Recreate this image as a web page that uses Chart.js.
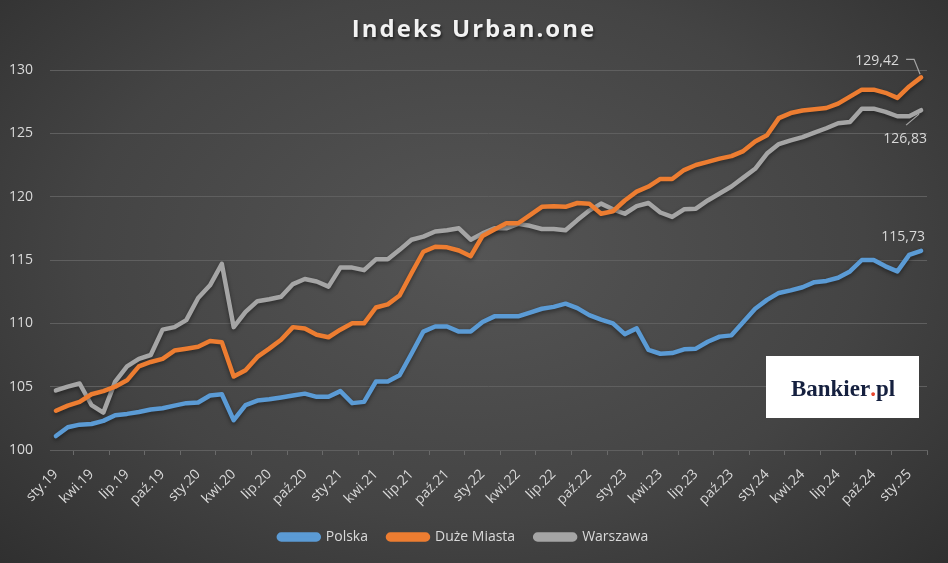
<!DOCTYPE html>
<html lang="pl">
<head>
<meta charset="utf-8">
<title>Indeks Urban.one</title>
<script src="https://cdn.jsdelivr.net/npm/chart.js@4.4.1/dist/chart.umd.min.js"></script>
<style>
  html, body { margin: 0; padding: 0; }
  body {
    width: 948px; height: 563px; overflow: hidden;
    background: radial-gradient(ellipse 75% 85% at 50% 45%, #555555 0%, #444444 55%, #2c2c2c 100%);
  }
  #wrap { position: relative; width: 948px; height: 563px; }
</style>
</head>
<body>
<div id="wrap"><canvas id="urbanChart"></canvas></div>
<script>
// month abbreviations and years used for the category labels
const monthNames = ["sty", "lut", "mar", "kwi", "maj", "cze", "lip", "sie", "wrz", "paź", "lis", "gru"];
const years = ["19", "20", "21", "22", "23", "24", "25"];
const monthCount = 74; // sty.19 .. lut.25

const yTicks = [100, 105, 110, 115, 120, 125, 130];

const polska = [
  101.1, 101.8, 102.0, 102.05, 102.3, 102.75, 102.85, 103.0, 103.2, 103.3, 103.5, 103.7,
  103.75, 104.3, 104.4, 102.35, 103.55, 103.9, 104.0, 104.15, 104.3, 104.45, 104.2, 104.2,
  104.65, 103.7, 103.8, 105.4, 105.4, 105.9, 107.6, 109.35, 109.75, 109.75, 109.35, 109.35,
  110.1, 110.55, 110.55, 110.55, 110.85, 111.15, 111.3, 111.55, 111.2, 110.65, 110.3, 110.0,
  109.15, 109.6, 107.9, 107.6, 107.65, 107.95, 108.0, 108.55, 108.95, 109.05, 110.1, 111.15,
  111.85, 112.4, 112.6, 112.85, 113.25, 113.35, 113.6, 114.1, 115.0, 115.0, 114.5, 114.1,
  115.4, 115.73
];

const duzeMiasta = [
  103.1, 103.5, 103.8, 104.4, 104.65, 105.0, 105.5, 106.6, 106.95, 107.2, 107.85, 108.0,
  108.15, 108.6, 108.5, 105.8, 106.3, 107.35, 108.0, 108.7, 109.7, 109.6, 109.1, 108.9,
  109.5, 110.0, 110.0, 111.25, 111.5, 112.2, 113.95, 115.65, 116.05, 116.0, 115.75, 115.3,
  116.9, 117.4, 117.9, 117.9, 118.55, 119.2, 119.25, 119.2, 119.5, 119.45, 118.65, 118.85,
  119.7, 120.4, 120.8, 121.4, 121.4, 122.1, 122.5, 122.75, 123.0, 123.2, 123.6, 124.35,
  124.85, 126.2, 126.6, 126.8, 126.9, 127.0, 127.35, 127.9, 128.45, 128.45, 128.2, 127.8,
  128.7, 129.42
];

const warszawa = [
  104.7, 105.0, 105.25, 103.55, 102.95, 105.4, 106.6, 107.2, 107.5, 109.5, 109.7, 110.25,
  112.0, 113.0, 114.7, 109.7, 110.9, 111.75, 111.9, 112.1, 113.1, 113.5, 113.3, 112.9,
  114.4, 114.4, 114.2, 115.05, 115.05, 115.8, 116.6, 116.85, 117.25, 117.35, 117.5, 116.6,
  117.1, 117.5, 117.5, 117.85, 117.7, 117.45, 117.45, 117.35, 118.15, 118.9, 119.45, 119.0,
  118.65, 119.25, 119.5, 118.75, 118.4, 119.0, 119.05, 119.7, 120.25, 120.8, 121.5, 122.2,
  123.4, 124.15, 124.45, 124.7, 125.05, 125.4, 125.8, 125.9, 126.95, 126.95, 126.7, 126.35,
  126.35, 126.83
];

const labels = [];
for (let i = 0; i < monthCount; i++) {
  labels.push(monthNames[i % 12] + "." + years[Math.floor(i / 12)]);
}

const FONT = '"Open Sans", "DejaVu Sans", sans-serif';
const TEXT = "#d9d9d9";

// title drawn by hand so it can have letter spacing + shadow
const titlePlugin = {
  id: "titlePlugin",
  afterDraw(chart) {
    const ctx = chart.ctx;
    ctx.save();
    ctx.font = "bold 24px " + FONT;
    if ("letterSpacing" in ctx) ctx.letterSpacing = "2px";
    ctx.textAlign = "center";
    ctx.textBaseline = "middle";
    ctx.shadowColor = "rgba(0,0,0,0.6)";
    ctx.shadowBlur = 3;
    ctx.shadowOffsetX = 1;
    ctx.shadowOffsetY = 2;
    ctx.fillStyle = "#f2f2f2";
    ctx.fillText("Indeks Urban.one", 474, 30);
    ctx.restore();
  }
};

// soft shadow under the lines, like the Excel original
const lineShadow = {
  id: "lineShadow",
  beforeDatasetsDraw(chart) {
    const ctx = chart.ctx;
    ctx.save();
    ctx.shadowColor = "rgba(0,0,0,0.45)";
    ctx.shadowBlur = 4;
    ctx.shadowOffsetY = 2;
  },
  afterDatasetsDraw(chart) {
    chart.ctx.restore();
  }
};

// value labels at the last point of each series
const endLabels = {
  id: "endLabels",
  afterDatasetsDraw(chart) {
    const ctx = chart.ctx;
    const spots = [
      { dx: -18, dy: -14, leader: null },
      { dx: -44, dy: -16, leader: [[-15, -18], [-7, -18], [-1, -3]] },
      { dx: -16, dy: 29, leader: [[-15, 15], [-2, 4]] }
    ];
    ctx.save();
    ctx.font = "14px " + FONT;
    ctx.fillStyle = TEXT;
    ctx.textAlign = "center";
    ctx.textBaseline = "middle";
    ctx.strokeStyle = "#a6a6a6";
    ctx.lineWidth = 1.2;
    chart.data.datasets.forEach((ds, i) => {
      const meta = chart.getDatasetMeta(i);
      const pt = meta.data[meta.data.length - 1];
      const val = ds.data[ds.data.length - 1];
      const s = spots[i];
      if (s.leader) {
        ctx.beginPath();
        s.leader.forEach((p, k) => {
          if (k === 0) ctx.moveTo(pt.x + p[0], pt.y + p[1]);
          else ctx.lineTo(pt.x + p[0], pt.y + p[1]);
        });
        ctx.stroke();
      }
      ctx.fillText(val.toFixed(2).replace(".", ","), pt.x + s.dx, pt.y + s.dy);
    });
    ctx.restore();
  }
};

// Bankier.pl logo box
const logoPlugin = {
  id: "logoPlugin",
  afterDraw(chart) {
    const ctx = chart.ctx;
    ctx.save();
    ctx.fillStyle = "#ffffff";
    ctx.fillRect(766, 356, 153, 62);
    ctx.font = 'bold 23px "Liberation Serif", "DejaVu Serif", serif';
    ctx.textBaseline = "alphabetic";
    ctx.textAlign = "left";
    const a = "Bankier", b = ".", c = "pl";
    const wa = ctx.measureText(a).width;
    const wb = ctx.measureText(b).width;
    const wc = ctx.measureText(c).width;
    let x = 843 - (wa + wb + wc) / 2;
    const y = 396;
    ctx.fillStyle = "#15203f";
    ctx.fillText(a, x, y);
    ctx.fillStyle = "#e8452c";
    ctx.fillText(b, x + wa, y);
    ctx.fillStyle = "#15203f";
    ctx.fillText(c, x + wa + wb, y);
    ctx.restore();
  }
};

const ctx = document.getElementById("urbanChart").getContext("2d");

new Chart(ctx, {
  type: "line",
  data: {
    labels: labels,
    datasets: [
      { label: "Polska", data: polska, borderColor: "#5b9bd5", backgroundColor: "#5b9bd5" },
      { label: "Duże Miasta", data: duzeMiasta, borderColor: "#ed7d31", backgroundColor: "#ed7d31" },
      { label: "Warszawa", data: warszawa, borderColor: "#a5a5a5", backgroundColor: "#a5a5a5" }
    ]
  },
  options: {
    responsive: true,
    maintainAspectRatio: false,
    animation: false,
    elements: {
      line: { borderWidth: 4.5, tension: 0, borderJoinStyle: "round", borderCapStyle: "round" },
      point: { radius: 0, hoverRadius: 0 }
    },
    layout: { padding: { top: 70, right: 21, bottom: 9, left: 0 } },
    scales: {
      x: {
        offset: true,
        grid: {
          offset: true,
          drawOnChartArea: false,
          drawTicks: true,
          tickLength: 5,
          color: "#6a6a6a"
        },
        border: { display: true, color: "#5f5f5f", width: 1 },
        ticks: {
          autoSkip: false,
          minRotation: 45,
          maxRotation: 45,
          padding: 11,
          color: TEXT,
          font: { family: FONT, size: 14 },
          callback: function(value, index) {
            return index % 3 === 0 ? labels[index] : null;
          }
        },
        afterFit(scale) { scale.height = 60; }
      },
      y: {
        min: yTicks[0],
        max: yTicks[yTicks.length - 1],
        afterBuildTicks(scale) { scale.ticks = yTicks.map(v => ({ value: v })); },
        grid: { color: "#5f5f5f", drawTicks: false },
        border: { display: false },
        ticks: {
          padding: 17,
          color: TEXT,
          font: { family: FONT, size: 14 }
        },
        afterFit(scale) { scale.width = 50; }
      }
    },
    plugins: {
      legend: {
        position: "bottom",
        labels: {
          boxWidth: 40,
          boxHeight: 5,
          useBorderRadius: true,
          borderRadius: 2.5,
          padding: 20,
          color: TEXT,
          font: { family: FONT, size: 14 }
        }
      },
      tooltip: { enabled: false }
    }
  },
  plugins: [lineShadow, endLabels, titlePlugin, logoPlugin]
});
</script>
</body>
</html>
